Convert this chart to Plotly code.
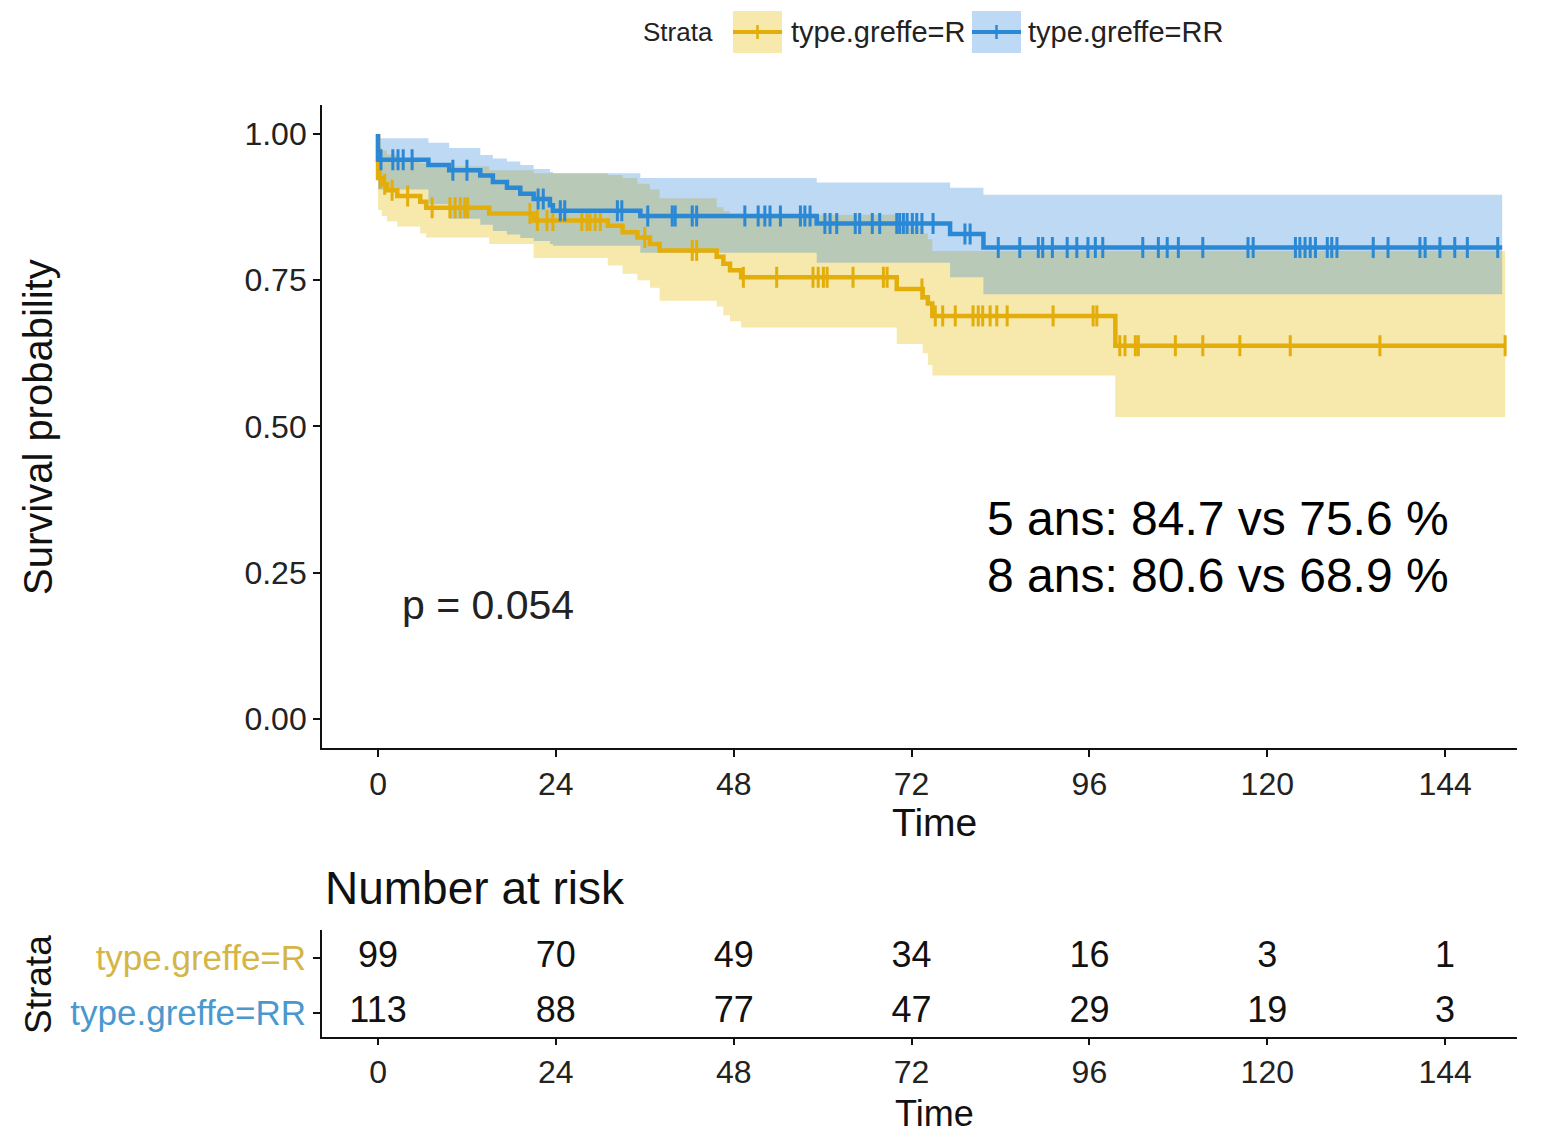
import plotly.graph_objects as go

# ---------------- data ----------------
tick_times = [0, 24, 48, 72, 96, 120, 144]
strata = ["type.greffe=R", "type.greffe=RR"]

# type.greffe=R  (step times in months, survival, CI)
r_time  = [0, 0.5, 1.2, 2.6, 5.7, 6.5, 15.0, 21.0, 31.0, 33.0, 35.0, 36.7, 38.0, 45.7, 46.6, 47.5, 49.0, 70.0, 73.5, 74.2, 74.8, 99.5]
r_surv  = [0.925, 0.914, 0.904, 0.894, 0.884, 0.874, 0.864, 0.852, 0.843, 0.832, 0.823, 0.812, 0.801, 0.790, 0.778, 0.767, 0.755, 0.735, 0.721, 0.710, 0.689, 0.638]
r_upper = [0.978, 0.972, 0.965, 0.958, 0.950, 0.945, 0.938, 0.933, 0.930, 0.925, 0.915, 0.905, 0.890, 0.875, 0.868, 0.864, 0.862, 0.840, 0.830, 0.820, 0.800, 0.800]
r_lower = [0.870, 0.860, 0.851, 0.842, 0.830, 0.823, 0.812, 0.788, 0.775, 0.761, 0.750, 0.737, 0.715, 0.705, 0.690, 0.680, 0.669, 0.641, 0.625, 0.605, 0.587, 0.516]
r_end = 152.1
r_censor = [0.3, 0.9, 1.9, 4.0, 7.3, 9.7, 10.4, 11.1, 11.7, 12.1, 20.5, 21.5, 22.8, 23.6, 27.5, 28.2,
            28.6, 29.3, 30.0, 36.0, 42.4, 43.0, 49.3, 53.8, 58.7, 59.4, 60.1, 60.6, 64.1, 68.2, 68.7,
            73.4, 75.2, 76.2, 77.9, 80.3, 81.0, 81.6, 82.6, 83.5, 84.9, 91.1, 96.5, 97.0, 100.1, 100.8,
            102.2, 102.6, 107.6, 111.3, 116.3, 123.1, 135.2, 152.1]

# type.greffe=RR
rr_time  = [0, 6.8, 9.6, 13.8, 15.5, 17.4, 19.2, 21.0, 23.2, 23.6, 35.4, 59.2, 77.2, 81.7]
rr_surv  = [0.956, 0.947, 0.938, 0.929, 0.918, 0.908, 0.898, 0.889, 0.878, 0.869, 0.860, 0.847, 0.829, 0.806]
rr_upper = [0.993, 0.985, 0.976, 0.964, 0.958, 0.953, 0.947, 0.940, 0.935, 0.933, 0.925, 0.917, 0.908, 0.896]
rr_lower = [0.905, 0.880, 0.855, 0.845, 0.834, 0.828, 0.822, 0.817, 0.812, 0.809, 0.797, 0.780, 0.755, 0.726]
rr_end = 151.7
rr_censor = [0.4, 2.0, 2.7, 3.4, 4.6, 10.1, 12.0, 21.6, 22.3, 24.6, 25.2, 32.3, 32.9, 36.4, 39.7, 40.1,
             42.4, 43.0, 49.5, 51.3, 52.2, 52.9, 54.3, 57.0, 57.6, 58.3, 60.3, 61.0, 61.9, 64.4, 65.0,
             66.7, 67.7, 70.0, 70.4, 70.9, 71.4, 72.1, 72.7, 73.4, 74.9, 79.2, 79.9, 83.7, 86.6, 89.1,
             89.7, 91.0, 93.0, 94.3, 95.8, 96.8, 97.8, 103.2, 105.3, 106.5, 108.0, 111.3, 117.4, 118.1,
             123.8, 124.4, 125.1, 125.8, 126.5, 128.1, 128.7, 129.4, 134.3, 136.3, 140.6, 141.3, 143.3,
             145.3, 147.0, 151.1]

r_risk = [99, 70, 49, 34, 16, 3, 1]
rr_risk = [113, 88, 77, 47, 29, 19, 3]

# ---------------- style ----------------
W, H = 1546, 1135
FONT = "Liberation Sans, Arial, sans-serif"
Y_COL, B_COL = "#E3AD0A", "#2A88D4"
Y_FILL, B_FILL = "rgba(231,184,0,0.33)", "rgba(40,130,215,0.30)"
Y_LAB, B_LAB = "#D4B545", "#4B98CE"


def px(x):
    return x / W


def py(y):
    return 1 - y / H


def step_at(times, survs, t):
    v = 1.0
    for ti, si in zip(times, survs):
        if ti <= t:
            v = si
    return v


fig = go.Figure()


def add_ribbon(times, upper, lower, end, fill_col):
    tx = list(times) + [end]
    lo = list(lower) + [lower[-1]]
    up = list(upper) + [upper[-1]]
    fig.add_trace(go.Scatter(x=tx, y=lo, mode="lines", line=dict(width=0, shape="hv"),
                             hoverinfo="skip", showlegend=False, xaxis="x", yaxis="y"))
    fig.add_trace(go.Scatter(x=tx, y=up, mode="lines", line=dict(width=0, shape="hv"),
                             fill="tonexty", fillcolor=fill_col, hoverinfo="skip",
                             showlegend=False, xaxis="x", yaxis="y"))


add_ribbon(r_time, r_upper, r_lower, r_end, Y_FILL)
add_ribbon(rr_time, rr_upper, rr_lower, rr_end, B_FILL)

for times, surv, end, censor, col, name in [
    (r_time, r_surv, r_end, r_censor, Y_COL, strata[0]),
    (rr_time, rr_surv, rr_end, rr_censor, B_COL, strata[1]),
]:
    lx = [0] + list(times) + [end]
    ly = [1.0] + list(surv) + [surv[-1]]
    fig.add_trace(go.Scatter(x=lx, y=ly, mode="lines", line=dict(color=col, width=4.5, shape="hv"),
                             name=name, showlegend=False, xaxis="x", yaxis="y"))
    cy = [step_at(times, surv, c) for c in censor]
    fig.add_trace(go.Scatter(x=censor, y=cy, mode="markers",
                             marker=dict(symbol="line-ns", size=15, line=dict(color=col, width=3)),
                             showlegend=False, hoverinfo="skip", xaxis="x", yaxis="y"))

# risk table
for row, vals in [(1, r_risk), (0, rr_risk)]:
    fig.add_trace(go.Scatter(x=tick_times, y=[row] * len(vals), mode="text",
                             text=[str(v) for v in vals],
                             textfont=dict(family=FONT, size=36, color="#111111"),
                             showlegend=False, hoverinfo="skip", xaxis="x2", yaxis="y2"))

XR = [-7.56, 153.7]
axis_common = dict(showgrid=False, zeroline=False, showline=True, linecolor="#111111", linewidth=1.8,
                   ticks="outside", ticklen=7, tickwidth=1.8, tickcolor="#111111",
                   tickfont=dict(family=FONT, size=32, color="#222222"))

fig.update_layout(
    width=W, height=H, margin=dict(l=0, r=0, t=0, b=0),
    paper_bgcolor="white", plot_bgcolor="white",
    xaxis=dict(domain=[px(322), px(1517)], range=XR, tickvals=tick_times, anchor="y", **axis_common),
    yaxis=dict(domain=[py(748), py(104.8)], range=[-0.05, 1.05], tickvals=[0, 0.25, 0.5, 0.75, 1.0],
               ticktext=["0.00", "0.25", "0.50", "0.75", "1.00"], anchor="x", **axis_common),
    xaxis2=dict(domain=[px(322), px(1517)], range=XR, tickvals=tick_times, anchor="y2",
                **{**axis_common, "ticklen": 6}),
    yaxis2=dict(domain=[py(1037), py(930)], range=[-0.436, 1.509], tickvals=[1, 0],
                ticktext=[f'<span style="color:{Y_LAB}">{strata[0]}</span>',
                          f'<span style="color:{B_LAB}">{strata[1]}</span>'],
                anchor="x2", **{**axis_common, "tickfont": dict(family=FONT, size=35, color="#222222")}),
)

ann = []


def text(x, y, s, size, xanchor="center", angle=0, color="#111111"):
    ann.append(dict(x=px(x), y=py(y), xref="paper", yref="paper", text=s, showarrow=False,
                    xanchor=xanchor, yanchor="middle", textangle=angle,
                    font=dict(family=FONT, size=size, color=color)))


text(935, 822, "Time", 39)
text(935, 1113, "Time", 36)
text(38, 427, "Survival probability", 40, angle=-90)
text(38, 985, "Strata", 37, angle=-90)
text(323, 888, "Number at risk", 46, xanchor="left")
text(985, 518, "5 ans: 84.7 vs 75.6 %", 48, xanchor="left", color="#000000")
text(985, 575, "8 ans: 80.6 vs 68.9 %", 48, xanchor="left", color="#000000")
text(400, 605, "p = 0.054", 41, xanchor="left", color="#222222")
# legend
text(641, 32, "Strata", 26, xanchor="left", color="#222222")
text(789, 32, strata[0], 29, xanchor="left", color="#222222")
text(1026, 32, strata[1], 29, xanchor="left", color="#222222")
fig.update_layout(annotations=ann)

shapes = []
for x0, fillc, linec in [(733, Y_FILL, Y_COL), (972, B_FILL, B_COL)]:
    shapes.append(dict(type="rect", xref="paper", yref="paper", x0=px(x0), x1=px(x0 + 49),
                       y0=py(53), y1=py(11), fillcolor=fillc, line=dict(width=0), layer="below"))
    shapes.append(dict(type="line", xref="paper", yref="paper", x0=px(x0), x1=px(x0 + 49),
                       y0=py(32), y1=py(32), line=dict(color=linec, width=4)))
    shapes.append(dict(type="line", xref="paper", yref="paper", x0=px(x0 + 24.5), x1=px(x0 + 24.5),
                       y0=py(25), y1=py(39), line=dict(color=linec, width=2.5)))
fig.update_layout(shapes=shapes)

fig.write_html("out.html")
